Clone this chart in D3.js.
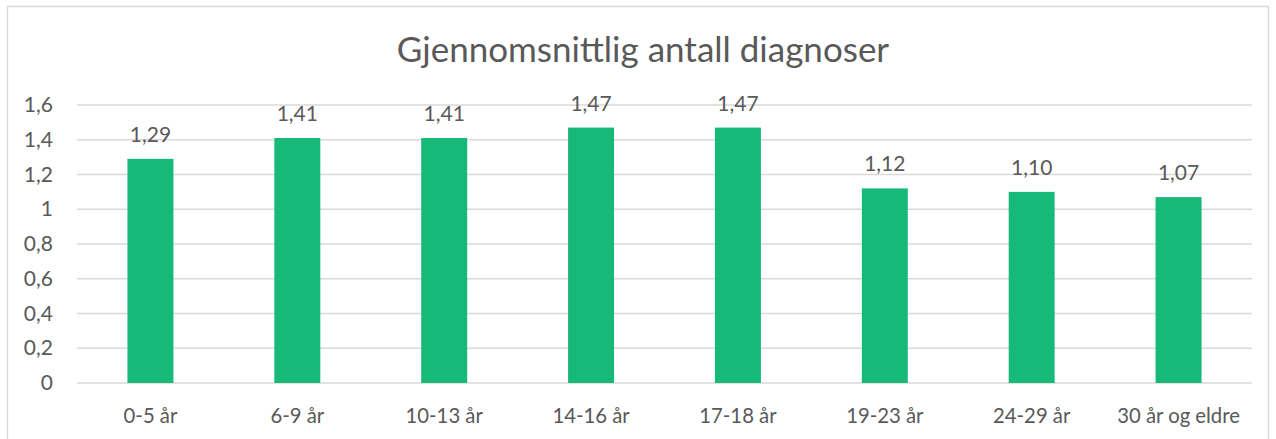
<!DOCTYPE html>
<html><head><meta charset="utf-8">
<script src="https://cdn.jsdelivr.net/npm/d3@7/dist/d3.min.js"></script>
<style>body{margin:0;background:#fff}svg{display:block}text{font-family:Lato,"Open Sans",sans-serif;fill:#595959}</style>
</head><body><svg id="c" width="1276" height="439"></svg>
<script>
const categories = ["0-5 år","6-9 år","10-13 år","14-16 år","17-18 år","19-23 år","24-29 år","30 år og eldre"];
const values = [1.29,1.41,1.41,1.47,1.47,1.12,1.10,1.07];
const yTicks = [0,0.2,0.4,0.6,0.8,1,1.2,1.4,1.6];
const title = "Gjennomsnittlig antall diagnoser";

const svg = d3.select("#c");
svg.append("rect").attr("x",7.5).attr("y",6.5).attr("width",1261).attr("height",440)
  .attr("fill","#fff").attr("stroke","#d9d9d9").attr("stroke-width",1.5);

const x = d3.scaleBand().domain(categories).range([77,1252]).paddingInner(0.687).paddingOuter(0.3435);
const y = d3.scaleLinear().domain([0,1.6]).range([383,105]);
const fmt = v => String(v).replace(".",",");

svg.append("g").selectAll("line").data(yTicks).join("line")
  .attr("x1",77).attr("x2",1252).attr("y1",d=>y(d)).attr("y2",d=>y(d))
  .attr("stroke","#d9d9d9").attr("stroke-width",1.5);

const yAxis = d3.axisLeft(y).tickValues(yTicks).tickFormat(fmt).tickSize(0).tickPadding(0);
const ga = svg.append("g").attr("transform","translate(53,0)").call(yAxis);
ga.select(".domain").remove();
ga.selectAll("text").attr("font-size",21).attr("fill","#595959").style("font-family","Lato, sans-serif");

svg.append("g").selectAll("rect").data(values).join("rect")
  .attr("x",(d,i)=>x(categories[i])).attr("width",x.bandwidth())
  .attr("y",d=>y(d)).attr("height",d=>y(0)-y(d)).attr("fill","#17b978");

svg.append("g").selectAll("text").data(values).join("text")
  .attr("x",(d,i)=>x(categories[i])+x.bandwidth()/2).attr("y",d=>y(d)-17)
  .attr("text-anchor","middle").attr("font-size",21).text(d=>d3.format(".2f")(d).replace(".",","));

const xAxis = d3.axisBottom(x).tickSize(0).tickPadding(0);
const gx = svg.append("g").attr("transform","translate(0,423)").call(xAxis);
gx.select(".domain").remove();
gx.selectAll("text").attr("font-size",20.3).attr("fill","#595959").attr("dy","0").style("font-family","Lato, sans-serif");

svg.append("text").attr("x",643).attr("y",62).attr("text-anchor","middle").attr("font-size",35).text(title);
</script></body></html>
